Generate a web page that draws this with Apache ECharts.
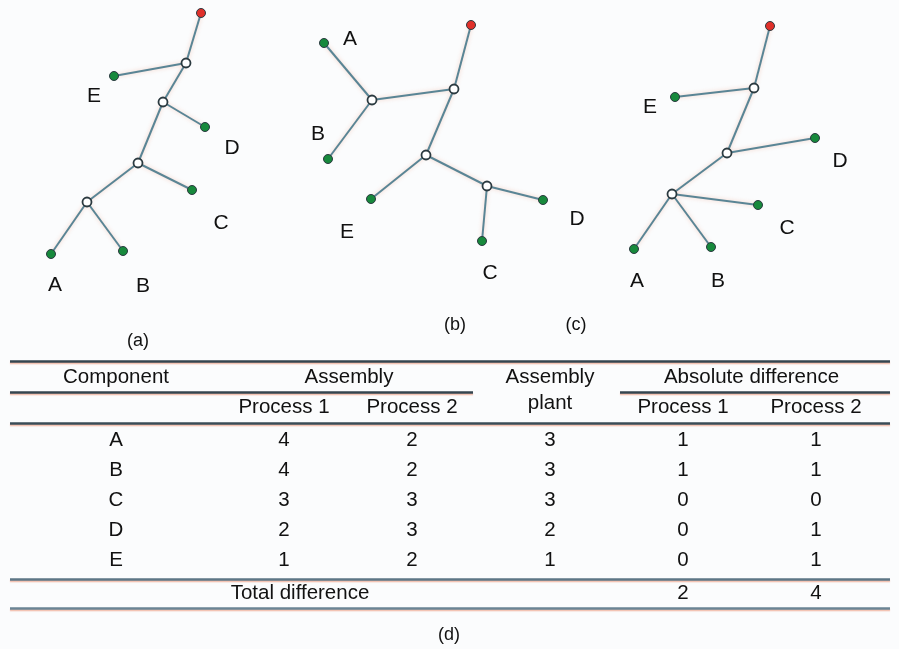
<!DOCTYPE html>
<html>
<head>
<meta charset="utf-8">
<script src="https://cdn.jsdelivr.net/npm/echarts@6/dist/echarts.min.js"></script>
<style>
  html, body { margin: 0; padding: 0; background: #fbfcfd; }
  #chart { width: 899px; height: 649px; }
</style>
</head>
<body>
<div id="chart"></div>
<script>
// table data
const COMPONENTS = ['A', 'B', 'C', 'D', 'E'];
const ASSEMBLY_P1 = [4, 4, 3, 2, 1];
const ASSEMBLY_P2 = [2, 2, 3, 3, 2];
const PLANT = [3, 3, 3, 2, 1];
const DIFF_P1 = [1, 1, 0, 0, 0];
const DIFF_P2 = [1, 1, 0, 1, 1];
const TOTAL_DIFF = [2, 4];

// tree nodes [name, x, y] in figure units, and edges
const TREE_A_NODES = [['root', 201, 13], ['n1', 186, 63], ['E', 114, 76], ['n2', 163, 102], ['D', 205, 127],
  ['n3', 138, 163], ['C', 192, 190], ['n4', 87, 202], ['A', 51, 254], ['B', 123, 251]];
const TREE_A_EDGES = [['root', 'n1'], ['n1', 'E'], ['n1', 'n2'], ['n2', 'D'], ['n2', 'n3'], ['n3', 'C'], ['n3', 'n4'], ['n4', 'A'], ['n4', 'B']];

const TREE_B_NODES = [['root', 471, 25], ['n1', 454, 89], ['n2', 372, 100], ['A', 324, 43], ['B', 328, 159],
  ['n3', 426, 155], ['E', 371, 199], ['n4', 487, 186], ['D', 543, 200], ['C', 482, 241]];
const TREE_B_EDGES = [['root', 'n1'], ['n1', 'n2'], ['n2', 'A'], ['n2', 'B'], ['n1', 'n3'], ['n3', 'E'], ['n3', 'n4'], ['n4', 'D'], ['n4', 'C']];

const TREE_C_NODES = [['root', 770, 26], ['n1', 754, 88], ['E', 675, 97], ['n2', 727, 153], ['D', 815, 138],
  ['n3', 672, 194], ['C', 758, 205], ['A', 634, 249], ['B', 711, 247]];
const TREE_C_EDGES = [['root', 'n1'], ['n1', 'E'], ['n1', 'n2'], ['n2', 'D'], ['n2', 'n3'], ['n3', 'C'], ['n3', 'A'], ['n3', 'B']];

// layout: leaf label offsets
const LABEL_OFFSETS = [
  { E: [-20, 20], D: [27, 21], C: [29, 33], A: [4, 31], B: [20, 35] },
  { A: [26, -4], B: [-10, -25], E: [-24, 33], D: [34, 19], C: [8, 32] },
  { E: [-25, 10], D: [25, 23], C: [29, 23], A: [3, 32], B: [7, 34] }
];

// layout: table
const COL_X = [116, 284, 412, 550, 683, 816];
const ROW_Y = [440, 470, 500, 530, 560];
const HEAD1_Y = 377, HEAD2_Y = 407, TOTAL_Y = 593;
const RULES = [
  [10, 890, 361, '#34454f'], [10, 473, 392, '#34454f'], [620, 890, 392, '#34454f'],
  [10, 890, 423, '#3a4c57'], [10, 890, 579, '#5d7686'], [10, 890, 608, '#6a8494']
];
const CAPTIONS = [['(a)', 138, 341], ['(b)', 455, 325], ['(c)', 576, 325], ['(d)', 449, 635]];

const FONT = 'Liberation Sans, Arial, sans-serif';
const TEXT = '#111111';

function treeSeries(nodes, edges, offsets) {
  return {
    type: 'graph',
    coordinateSystem: 'cartesian2d',
    layout: 'none',
    silent: true,
    symbol: 'circle',
    symbolSize: 9,
    data: nodes.map(([name, x, y]) => {
      const leaf = offsets[name] !== undefined;
      const root = name === 'root';
      return {
        name: name,
        value: [x, y],
        itemStyle: {
          color: root ? '#e0302a' : leaf ? '#17893c' : '#ffffff',
          borderColor: '#2b3a40',
          borderWidth: leaf || root ? 1 : 1.8,
          opacity: 1
        },
        label: leaf ? {
          show: true, position: 'inside', offset: offsets[name],
          formatter: name, fontSize: 21, fontFamily: FONT, color: TEXT
        } : { show: false }
      };
    }),
    links: edges.map(([s, t]) => ({ source: s, target: t })),
    lineStyle: {
      color: '#5a8595', width: 2, opacity: 1, curveness: 0,
      shadowColor: 'rgba(235,150,120,0.45)', shadowBlur: 4
    },
    z: 3
  };
}

function textSeries(data, size) {
  return {
    type: 'scatter',
    silent: true,
    symbolSize: 0,
    itemStyle: { opacity: 1 },
    data: data,
    label: {
      show: true, position: 'inside', formatter: (p) => p.value[2],
      fontSize: size, fontFamily: FONT, color: TEXT, opacity: 1
    },
    z: 4
  };
}

const textCells = [];
textCells.push([COL_X[0], HEAD1_Y, 'Component']);
textCells.push([(COL_X[1] + COL_X[2]) / 2 + 1, HEAD1_Y, 'Assembly']);
textCells.push([COL_X[3], HEAD1_Y, 'Assembly']);
textCells.push([COL_X[3], HEAD2_Y - 4, 'plant']);
textCells.push([(COL_X[4] + COL_X[5]) / 2 + 2, HEAD1_Y, 'Absolute difference']);
textCells.push([COL_X[1], HEAD2_Y, 'Process 1']);
textCells.push([COL_X[2], HEAD2_Y, 'Process 2']);
textCells.push([COL_X[4], HEAD2_Y, 'Process 1']);
textCells.push([COL_X[5], HEAD2_Y, 'Process 2']);
COMPONENTS.forEach((c, i) => {
  const cols = [c, ASSEMBLY_P1[i], ASSEMBLY_P2[i], PLANT[i], DIFF_P1[i], DIFF_P2[i]];
  cols.forEach((v, j) => textCells.push([COL_X[j], ROW_Y[i], String(v)]));
});
textCells.push([300, TOTAL_Y, 'Total difference']);
textCells.push([COL_X[4], TOTAL_Y, String(TOTAL_DIFF[0])]);
textCells.push([COL_X[5], TOTAL_Y, String(TOTAL_DIFF[1])]);

const chart = echarts.init(document.getElementById('chart'), null, { renderer: 'canvas' });

const option = {
  backgroundColor: '#fbfcfd',
  animation: false,
  grid: { left: 0, right: 0, top: 0, bottom: 0 },
  xAxis: { type: 'value', min: 0, max: 899, show: false },
  yAxis: { type: 'value', min: 0, max: 649, inverse: true, show: false },
  series: [
    treeSeries(TREE_A_NODES, TREE_A_EDGES, LABEL_OFFSETS[0]),
    treeSeries(TREE_B_NODES, TREE_B_EDGES, LABEL_OFFSETS[1]),
    treeSeries(TREE_C_NODES, TREE_C_EDGES, LABEL_OFFSETS[2]),
    {
      type: 'lines',
      coordinateSystem: 'cartesian2d',
      silent: true,
      data: RULES.map(([x1, x2, y, color]) => ({
        coords: [[x1, y], [x2, y]],
        lineStyle: { color: color }
      })),
      lineStyle: {
        width: 2.6, opacity: 1,
        shadowColor: 'rgba(235,140,110,0.55)', shadowOffsetY: 1.5, shadowBlur: 1
      },
      z: 2
    },
    textSeries(textCells, 20.5),
    textSeries(CAPTIONS.map(([t, x, y]) => [x, y, t]), 18)
  ]
};

chart.setOption(option);
</script>
</body>
</html>
